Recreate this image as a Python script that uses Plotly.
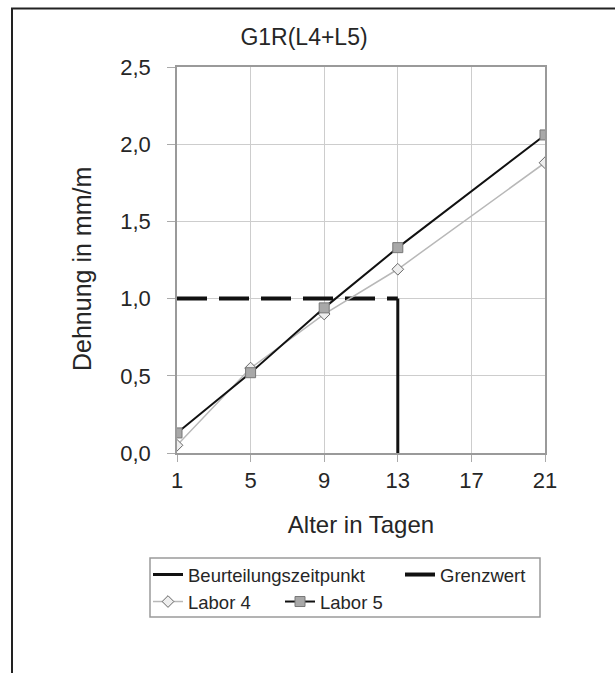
import plotly.graph_objects as go

# Data
days = [1, 5, 9, 13, 21]
labor4 = [0.05, 0.55, 0.90, 1.19, 1.88]
labor5 = [0.13, 0.52, 0.94, 1.33, 2.06]
grenz_x = [1, 13]
grenz_y = [1.0, 1.0]
beurt_x = [13, 13]
beurt_y = [0.0, 1.0]
x_ticks = [1, 5, 9, 13, 17, 21]
y_ticks = [0.0, 0.5, 1.0, 1.5, 2.0, 2.5]

W, H = 615, 673
L, R, T, B = 177, 70, 67, 220
PW, PH = W - L - R, H - T - B

def px2x(px):
    return (px - L) / PW

def px2y(py):
    return (H - B - py) / PH

FONT = "Arial, Liberation Sans, sans-serif"
TXT = "#262626"

fig = go.Figure()
fig.add_trace(go.Scatter(
    x=beurt_x, y=beurt_y, mode="lines", name="Beurteilungszeitpunkt",
    line=dict(color="#111111", width=3), legend="legend", legendwidth=207,
))
fig.add_trace(go.Scatter(
    x=grenz_x, y=grenz_y, mode="lines", name="Grenzwert",
    line=dict(color="#111111", width=4, dash="30px,12px"), legend="legend",
))
fig.add_trace(go.Scatter(
    x=days, y=labor4, mode="lines+markers", name="Labor 4",
    line=dict(color="#b8b8b8", width=1.5),
    marker=dict(symbol="diamond", size=9, color="#eeeeee", line=dict(color="#666666", width=1)),
    legend="legend2", legendwidth=87,
))
fig.add_trace(go.Scatter(
    x=days, y=labor5, mode="lines+markers", name="Labor 5",
    line=dict(color="#111111", width=2),
    marker=dict(symbol="square", size=10, color="#a8a8a8", line=dict(color="#777777", width=1)),
    legend="legend2",
))

shapes = [
    # outer frame (top/left visible)
    dict(type="rect", xref="paper", yref="paper",
         x0=px2x(12), x1=px2x(640), y0=px2y(700), y1=px2y(8.5),
         line=dict(color="#222222", width=2), fillcolor="rgba(0,0,0,0)", layer="below"),
    # legend box
    dict(type="rect", xref="paper", yref="paper",
         x0=px2x(150), x1=px2x(540), y0=px2y(617), y1=px2y(558),
         line=dict(color="#9a9a9a", width=1.5), fillcolor="rgba(0,0,0,0)"),
]

annotations = [
    dict(text="Dehnung in mm/m", xref="paper", yref="paper",
         x=px2x(82), y=px2y(269), xanchor="center", yanchor="middle",
         textangle=-90, showarrow=False,
         font=dict(size=25, family=FONT, color=TXT)),
]

fig.update_layout(
    width=W, height=H,
    margin=dict(l=L, r=R, t=T, b=B),
    paper_bgcolor="white", plot_bgcolor="white",
    separators=", ",
    font=dict(family=FONT, color=TXT, size=22),
    title=dict(text="G1R(L4+L5)", x=304 / W, xanchor="center", xref="container",
               y=1 - 37 / H, yanchor="middle", yref="container",
               font=dict(size=23, family=FONT, color=TXT)),
    xaxis=dict(
        range=[1, 21], tickvals=x_ticks, ticktext=[str(v) for v in x_ticks],
        showgrid=True, gridcolor="#cdcdcd", gridwidth=1,
        showline=True, linecolor="#9a9a9a", linewidth=1.5, mirror=True,
        ticks="outside", ticklen=7, tickcolor="#aaaaaa", tickwidth=1,
        tickfont=dict(size=22, family=FONT, color=TXT),
        title=dict(text="Alter in Tagen", font=dict(size=24, family=FONT, color=TXT), standoff=24),
        zeroline=False,
    ),
    yaxis=dict(
        range=[0, 2.5], tickvals=y_ticks, tickformat=".1f",
        showgrid=True, gridcolor="#cdcdcd", gridwidth=1,
        showline=True, linecolor="#9a9a9a", linewidth=1.5, mirror=True,
        ticks="outside", ticklen=8, tickcolor="#aaaaaa", tickwidth=1,
        ticklabelstandoff=12,
        tickfont=dict(size=22, family=FONT, color=TXT),
        zeroline=False,
    ),
    legend=dict(orientation="h", x=px2x(148), xanchor="left", y=px2y(575), yanchor="middle",
                font=dict(size=18.5, family=FONT, color=TXT), bgcolor="rgba(0,0,0,0)",
                borderwidth=0, traceorder="normal"),
    legend2=dict(orientation="h", x=px2x(148), xanchor="left", y=px2y(602), yanchor="middle",
                 font=dict(size=18.5, family=FONT, color=TXT), bgcolor="rgba(0,0,0,0)",
                 borderwidth=0, traceorder="normal"),
    annotations=annotations,
    shapes=shapes,
)

fig.write_html("out.html")
